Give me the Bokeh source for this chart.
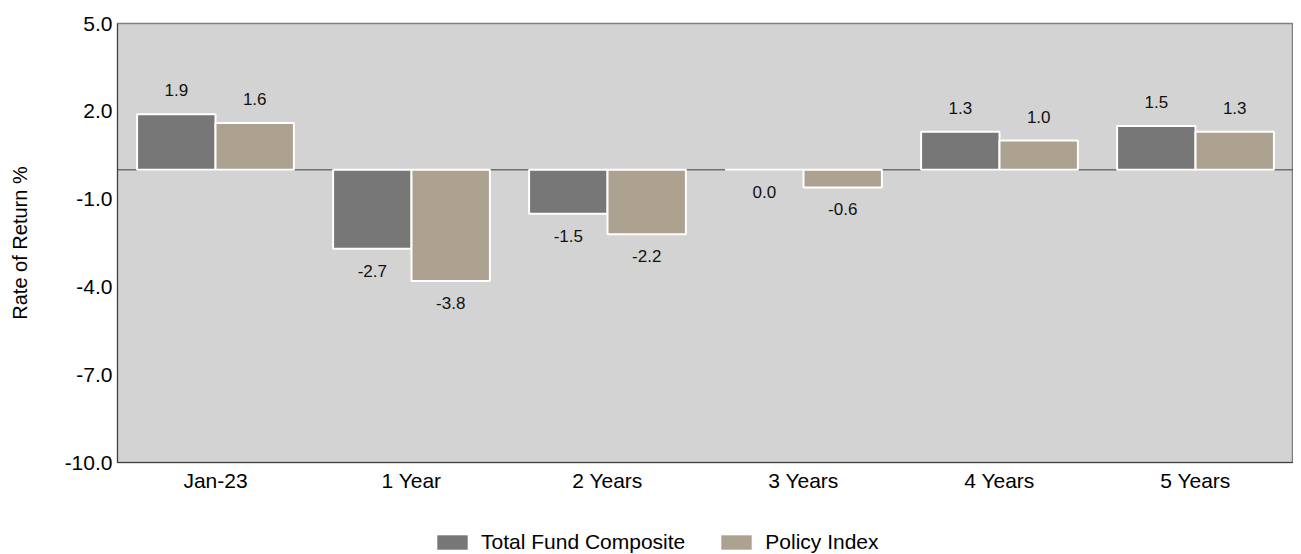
from bokeh.plotting import figure
from bokeh.layouts import column
from bokeh.models import ColumnDataSource, Range1d, FixedTicker, Span, Legend, LegendItem, CustomJSTickFormatter
from bokeh.transform import dodge
from bokeh.core.properties import value
from bokeh.embed import file_html
from bokeh.resources import INLINE

categories = ["Jan-23", "1 Year", "2 Years", "3 Years", "4 Years", "5 Years"]
fund_values = [1.9, -2.7, -1.5, 0.0, 1.3, 1.5]
policy_values = [1.6, -3.8, -2.2, -0.6, 1.0, 1.3]
series_names = ["Total Fund Composite", "Policy Index"]
y_ticks = [-10.0, -7.0, -4.0, -1.0, 2.0, 5.0]

FONT = "Liberation Sans"
DARK = "#777777"
TAN = "#ADA290"
W = 1293

p = figure(x_range=categories, y_range=Range1d(-10, 5), width=W, height=502,
           output_backend="svg", toolbar_location=None,
           min_border_left=117, min_border_top=23, min_border_right=0, min_border_bottom=40)
p.background_fill_color = "#D3D3D3"
p.border_fill_color = "white"
p.outline_line_color = "#808080"
p.outline_line_width = 1.5
p.xgrid.grid_line_color = None
p.ygrid.grid_line_color = None

zero = Span(location=0, dimension="width", line_color="#404040", line_width=1, level="underlay")
p.add_layout(zero)

def lbl(v):
    return f"{v:.1f}"

src1 = ColumnDataSource(dict(cat=categories, top=fund_values,
                             lab=[lbl(v) for v in fund_values],
                             yo=[-24 if v > 0 else 22 for v in fund_values]))
src2 = ColumnDataSource(dict(cat=categories, top=policy_values,
                             lab=[lbl(v) for v in policy_values],
                             yo=[-24 if v > 0 else 22 for v in policy_values]))

p.vbar(x=dodge("cat", -0.2, range=p.x_range), top="top", bottom=0, width=0.4,
       source=src1, fill_color=DARK, line_color="white", line_width=2)
p.vbar(x=dodge("cat", 0.2, range=p.x_range), top="top", bottom=0, width=0.4,
       source=src2, fill_color=TAN, line_color="white", line_width=2)

for src, off in ((src1, -0.2), (src2, 0.2)):
    p.text(x=dodge("cat", off, range=p.x_range), y="top", text="lab", y_offset="yo", source=src,
           text_align="center", text_baseline="middle", text_font=value(FONT),
           text_font_size="17px", text_color="#111111")

p.yaxis.ticker = FixedTicker(ticks=y_ticks)
p.yaxis.formatter = CustomJSTickFormatter(code="return tick.toFixed(1);")
p.yaxis.axis_label = "Rate of Return %"
p.yaxis.axis_label_text_font = FONT
p.yaxis.axis_label_text_font_style = "normal"
p.yaxis.axis_label_text_font_size = "20px"
p.yaxis.axis_label_text_color = "black"
p.yaxis.axis_label_standoff = 31
p.yaxis.major_label_text_font = FONT
p.yaxis.major_label_text_font_size = "21px"
p.yaxis.major_label_text_color = "black"
p.yaxis.major_label_standoff = 5
p.yaxis.major_tick_line_color = None
p.yaxis.major_tick_out = 0
p.yaxis.major_tick_in = 0
p.yaxis.minor_tick_line_color = None
p.yaxis.axis_line_color = "#404040"

p.xaxis.major_label_text_font = FONT
p.xaxis.major_label_text_font_size = "21px"
p.xaxis.major_label_text_color = "black"
p.xaxis.major_label_standoff = 6
p.xaxis.major_tick_line_color = None
p.xaxis.major_tick_out = 0
p.xaxis.major_tick_in = 0
p.xaxis.axis_line_color = "#404040"

# legend strip
lg = figure(width=W, height=52, output_backend="svg", toolbar_location=None,
            min_border=0, x_range=Range1d(0, 1), y_range=Range1d(0, 1))
lg.axis.visible = False
lg.grid.visible = False
lg.outline_line_color = None
off_view = dict(x=[-5.0], top=[-5.0])
g1 = lg.vbar(x="x", top="top", bottom=-6, width=0.1, source=ColumnDataSource(off_view),
             fill_color=DARK, line_color=None)
g2 = lg.vbar(x="x", top="top", bottom=-6, width=0.1, source=ColumnDataSource(dict(off_view)),
             fill_color=TAN, line_color=None)

legend = Legend(items=[LegendItem(label=series_names[0], renderers=[g1]),
                       LegendItem(label=series_names[1], renderers=[g2])],
                orientation="horizontal", location=(316, 0))
legend.label_text_font = FONT
legend.label_text_font_size = "21px"
legend.label_text_color = "black"
legend.glyph_width = 38
legend.glyph_height = 18
legend.label_standoff = 10
legend.spacing = 32
legend.border_line_color = None
legend.background_fill_alpha = 0
legend.padding = 0
legend.margin = 0
lg.add_layout(legend, "center")

layout = column(p, lg, spacing=0)
open("out.html", "w").write(file_html(layout, INLINE))
